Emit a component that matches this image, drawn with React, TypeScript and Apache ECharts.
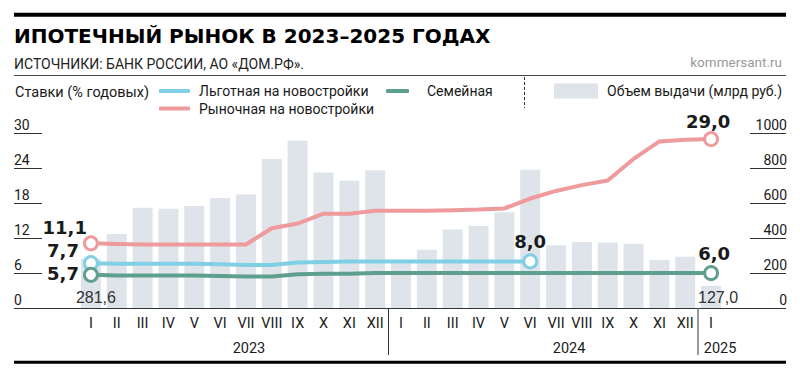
import React, { useEffect, useRef } from 'react';
import * as echarts from 'echarts';

// ---------- data ----------
const monthLabels = ['I', 'II', 'III', 'IV', 'V', 'VI', 'VII', 'VIII', 'IX', 'X', 'XI', 'XII'];
const categories = [...monthLabels, ...monthLabels, 'I'];
const yearLabels = ['2023', '2024', '2025'];

// Объем выдачи (млрд руб.)
const volume = [
  281.6, 424, 574, 568, 584, 630, 649, 853, 958, 775, 729, 788,
  258, 333, 450, 469, 548, 792, 359, 378, 374, 368, 275, 294,
  127.0,
];
// Льготная на новостройки (%)
const preferential: (number | null)[] = [
  7.7, 7.6, 7.6, 7.6, 7.6, 7.5, 7.4, 7.4, 7.8, 7.9, 8.0, 8.0,
  8.0, 8.0, 8.0, 8.0, 8.0, 8.0, null, null, null, null, null, null,
  null,
];
// Семейная (%)
const family: (number | null)[] = [
  5.7, 5.6, 5.6, 5.6, 5.6, 5.5, 5.4, 5.4, 5.8, 5.9, 5.9, 6.0,
  6.0, 6.0, 6.0, 6.0, 6.0, 6.0, 6.0, 6.0, 6.0, 6.0, 6.0, 6.0,
  6.0,
];
// Рыночная на новостройки (%)
const market: (number | null)[] = [
  11.1, 11.0, 10.9, 10.9, 10.9, 10.9, 10.9, 13.7, 14.5, 16.2, 16.2, 16.7,
  16.7, 16.7, 16.8, 16.9, 17.1, 18.8, 20.1, 21.1, 21.9, 25.6, 28.6, 28.9,
  29.0,
];

const rateAxis = { min: 0, max: 30, interval: 6 };
const volumeAxis = { min: 0, max: 1000, interval: 200 };

const NAMES = {
  pref: 'Льготная на новостройки',
  market: 'Рыночная на новостройки',
  family: 'Семейная',
  volume: 'Объем выдачи (млрд руб.)',
};

// ---------- styles ----------
const NARROW = "Roboto, 'Liberation Sans', sans-serif";
const SANS = "'Liberation Sans', Arial, Helvetica, sans-serif";
const BOLDNUM = "'DejaVu Sans', sans-serif";
const C = {
  red: '#ef9a9c',
  blue: '#80cfe4',
  green: '#5f9f8e',
  bar: '#dee4ea',
  text: '#1a1a1a',
};

const fmt = (v: number) => v.toFixed(1).replace('.', ',');

const valueLabel = (extra: any) => ({
  show: true,
  fontFamily: BOLDNUM,
  fontWeight: 'bold',
  fontSize: 18,
  color: C.text,
  formatter: (p: any) => fmt(p.value),
  ...extra,
});

function buildLine(values: (number | null)[], color: string, labels: Record<number, any>) {
  return values.map((v, i) => {
    if (v == null) return '-';
    if (labels[i]) {
      return {
        value: v,
        symbolSize: 13,
        itemStyle: { color: '#fff', borderColor: color, borderWidth: 3 },
        label: valueLabel(labels[i]),
      };
    }
    return { value: v, symbolSize: 0 };
  });
}

function lastIndex(values: (number | null)[]) {
  let k = -1;
  values.forEach((v, i) => { if (v != null) k = i; });
  return k;
}

export default function App() {
  const ref = useRef<HTMLDivElement>(null);

  useEffect(() => {
    if (!ref.current) return;
    const chart = echarts.init(ref.current, undefined, { renderer: 'svg' });

    const lineSeries = (name: string, values: (number | null)[], color: string, labels: Record<number, any>) => ({
      name,
      type: 'line',
      yAxisIndex: 0,
      data: buildLine(values, color, labels),
      symbol: 'circle',
      showAllSymbol: true,
      connectNulls: false,
      lineStyle: { color, width: 4 },
      itemStyle: { color },
      z: 3,
      silent: true,
    });

    const lastPref = lastIndex(preferential);
    const lastMarket = lastIndex(market);
    const lastFamily = lastIndex(family);

    const legendBase = {
      orient: 'horizontal',
      selectedMode: false,
      itemGap: 0,
      padding: 0,
      textStyle: { fontFamily: NARROW, fontSize: 14, color: C.text, padding: [0, 0, 0, 4] },
    };

    const axisLabelBase = { fontFamily: NARROW, fontSize: 14, color: C.text };

    const option: any = {
      animation: false,
      backgroundColor: '#fff',
      grid: { left: 78, right: 76, top: 133.3, bottom: 69 },
      xAxis: {
        type: 'category',
        data: categories,
        boundaryGap: true,
        axisLine: { show: false },
        axisTick: { show: false },
        axisLabel: { interval: 0, margin: 8, fontFamily: NARROW, fontSize: 14.5, color: C.text },
        splitLine: { show: false },
      },
      yAxis: [
        {
          type: 'value',
          position: 'left',
          offset: 36,
          ...rateAxis,
          axisLine: { show: false },
          axisTick: { show: true, length: 28, lineStyle: { color: '#333', width: 1 } },
          axisLabel: {
            ...axisLabelBase,
            margin: 28, align: 'left', verticalAlign: 'bottom', padding: [0, 0, 1, 0],
            formatter: (v: number) => String(v),
          },
          splitLine: { show: false },
        },
        {
          type: 'value',
          position: 'right',
          offset: 26,
          ...volumeAxis,
          axisLine: { show: false },
          axisTick: { show: true, length: 36, lineStyle: { color: '#333', width: 1 } },
          axisLabel: {
            ...axisLabelBase,
            margin: 37, align: 'right', verticalAlign: 'bottom', padding: [0, 0, 1, 0],
            formatter: (v: number) => String(v),
          },
          splitLine: { show: false },
        },
      ],
      legend: [
        { ...legendBase, left: 159, top: 84, icon: 'roundRect', itemWidth: 31, itemHeight: 4, data: [NAMES.pref] },
        { ...legendBase, left: 159, top: 101.5, icon: 'roundRect', itemWidth: 31, itemHeight: 4, data: [NAMES.market] },
        { ...legendBase, left: 386, top: 84, icon: 'roundRect', itemWidth: 23, itemHeight: 4, data: [NAMES.family],
          textStyle: { ...legendBase.textStyle, padding: [0, 0, 0, 13] } },
        { ...legendBase, left: 554, top: 83.5, icon: 'rect', itemWidth: 44, itemHeight: 15, data: [NAMES.volume] },
      ],
      series: [
        {
          name: NAMES.volume,
          type: 'bar',
          yAxisIndex: 1,
          barWidth: 20,
          itemStyle: { color: C.bar },
          silent: true,
          z: 1,
          data: volume.map((v, i) =>
            i === 0 || i === volume.length - 1
              ? {
                  value: v,
                  label: {
                    show: true, position: 'insideBottom', distance: 3,
                    offset: [i === 0 ? 5 : 7, 0],
                    fontFamily: SANS, fontSize: 16, color: '#333',
                    formatter: (p: any) => fmt(p.value),
                  },
                }
              : v,
          ),
        },
        lineSeries(NAMES.market, market, C.red, {
          0: { position: 'left', distance: -4, offset: [0, -16] },
          [lastMarket]: { position: 'top', distance: 1, offset: [-3, 0] },
        }),
        lineSeries(NAMES.pref, preferential, C.blue, {
          0: { position: 'left', distance: 4, offset: [0, -13] },
          [lastPref]: { position: 'top', distance: 3 },
        }),
        lineSeries(NAMES.family, family, C.green, {
          0: { position: 'left', distance: 4, offset: [0, -1] },
          [lastFamily]: { position: 'top', distance: 3, offset: [3, 0] },
        }),
      ],
    };

    chart.setOption(option);

    // decorations derived from the axis scale
    const px = (i: number) => chart.convertToPixel({ xAxisIndex: 0 }, i) as number;
    const baseY = chart.convertToPixel({ yAxisIndex: 0 }, 0) as number;
    const div1 = (px(11) + px(12)) / 2;
    const div2 = (px(23) + px(24)) / 2;
    const yearX = [px(6) + 3, px(18) + 13, px(24) + 9];

    const txt = (x: number, y: number, text: string, style: any) => ({
      type: 'text', x, y, silent: true,
      style: { text, align: 'left', verticalAlign: 'middle', fill: C.text, ...style },
    });
    const hline = (y: number, w: number, color: string) => ({
      type: 'line', silent: true,
      shape: { x1: 14, y1: y, x2: 786, y2: y },
      style: { stroke: color, lineWidth: w },
    });

    chart.setOption({
      graphic: [
        hline(14.7, 4, '#000'),
        txt(14, 35.5, 'ИПОТЕЧНЫЙ РЫНОК В 2023–2025 ГОДАХ', {
          fontFamily: BOLDNUM, fontWeight: 'bold', fontSize: 20, fill: '#000',
        }),
        txt(14, 63.5, 'ИСТОЧНИКИ: БАНК РОССИИ, АО «ДОМ.РФ».', { fontFamily: NARROW, fontSize: 14, fill: '#222' }),
        txt(782, 62, 'kommersant.ru', { fontFamily: NARROW, fontSize: 13.5, fill: '#9a9a9a', align: 'right' }),
        hline(75.5, 1, '#444'),
        txt(15, 92.5, 'Ставки (% годовых)', { fontFamily: NARROW, fontSize: 14.5 }),
        {
          type: 'line', silent: true,
          shape: { x1: 524.5, y1: 77, x2: 524.5, y2: 108 },
          style: { stroke: '#333', lineWidth: 1, lineDash: [3, 2] },
        },
        hline(baseY + 0.5, 1, '#333'),
        {
          type: 'line', silent: true,
          shape: { x1: Math.round(div1) + 0.5, y1: baseY, x2: Math.round(div1) + 0.5, y2: 355 },
          style: { stroke: '#333', lineWidth: 1 },
        },
        {
          type: 'line', silent: true,
          shape: { x1: Math.round(div2), y1: baseY, x2: Math.round(div2), y2: 355 },
          style: { stroke: '#777', lineWidth: 1.5 },
        },
        ...yearLabels.map((y, i) =>
          txt(yearX[i], 348.5, y, { fontFamily: NARROW, fontSize: 14.5, align: 'center' }),
        ),
        hline(362.3, 3, '#000'),
      ],
    });

    return () => chart.dispose();
  }, []);

  return (
    <div
      ref={ref}
      style={{ position: 'fixed', left: 0, top: 0, width: 800, height: 377, background: '#fff' }}
    />
  );
}
